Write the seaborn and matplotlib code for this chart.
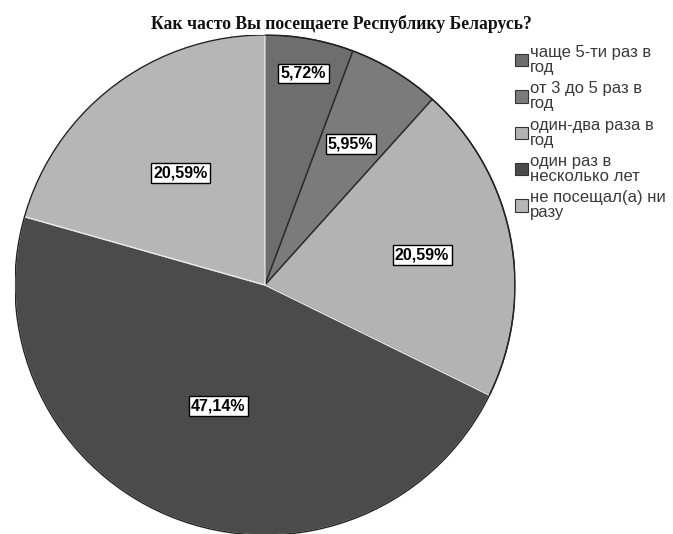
import matplotlib
matplotlib.use("Agg")
import matplotlib.pyplot as plt
from matplotlib.patches import Patch, Circle
import seaborn as sns
import numpy as np

# data
categories = [
    "чаще 5-ти раз в\nгод",
    "от 3 до 5 раз в\nгод",
    "один-два раза в\nгод",
    "один раз в\nнесколько лет",
    "не посещал(а) ни\nразу",
]
shares = [5.72, 5.95, 20.59, 47.14, 20.59]
title = "Как часто Вы посещаете Республику Беларусь?"

# styling
colors = ["#6e6e6e", "#7b7b7b", "#b3b3b3", "#4b4b4b", "#b6b6b6"]
edge_colors = ["#2a2a2a", "#2a2a2a", "#2a2a2a", "#e8e8e8", "#e8e8e8"]
label_dist = [0.86, 0.66, 0.64, 0.52, 0.56]

sns.set_style("white")
plt.rcParams["font.family"] = ["Liberation Sans", "DejaVu Sans"]

fig = plt.figure(figsize=(6.73, 5.34), dpi=100)
ax = fig.add_axes([15 / 673, -1 / 534, 500 / 673, 500 / 534])

wedges, _ = ax.pie(
    shares,
    colors=colors,
    startangle=90,
    counterclock=False,
    radius=1.0,
    wedgeprops=dict(linewidth=1.0),
)
for w, ec in zip(wedges, edge_colors):
    w.set_edgecolor(ec)
ax.add_patch(Circle((0, 0), 1.0, fill=False, edgecolor="#222222", linewidth=1.0))

# percentage labels in white boxes
for w, val, d in zip(wedges, shares, label_dist):
    ang = np.deg2rad((w.theta1 + w.theta2) / 2)
    ax.text(
        d * np.cos(ang), d * np.sin(ang),
        f"{val:.2f}%".replace(".", ","),
        ha="center", va="center", fontsize=11.5, fontweight="bold", color="black",
        bbox=dict(boxstyle="square,pad=0.15", facecolor="white", edgecolor="black", linewidth=1.0),
    )

ax.set_xlim(-1, 1)
ax.set_ylim(-1, 1)
ax.set_aspect("equal")
ax.axis("off")

fig.text(341 / 673, 1 - 24 / 534, title, ha="center", va="center",
         fontsize=12.7, fontweight="bold", family="Liberation Serif", color="#111111")

handles = [Patch(facecolor=c, edgecolor="#333333", linewidth=0.8) for c in colors]
leg = fig.legend(
    handles, categories,
    loc="upper left", bbox_to_anchor=(515 / 673, 1 - 45 / 534),
    frameon=False, fontsize=12, handlelength=0.75, handleheight=0.75,
    handletextpad=0.15, labelspacing=0.38, borderaxespad=0, borderpad=0,
)
for t in leg.get_texts():
    t.set_color("#3a3a3a")
    t.set_linespacing(1.0)

fig.savefig("out.png", dpi=100)
